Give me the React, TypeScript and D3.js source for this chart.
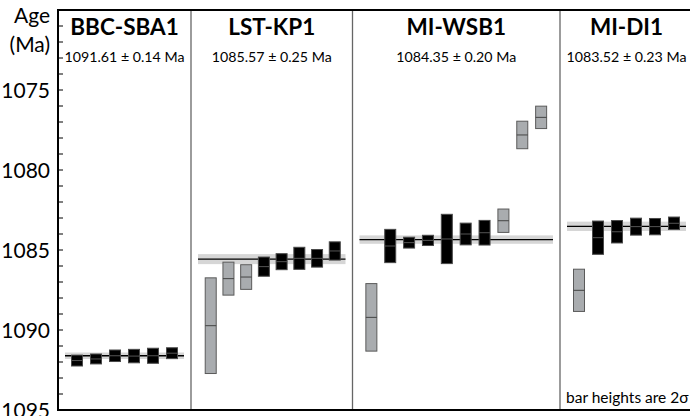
import React from "react";
import * as d3 from "d3";

// Sample names, weighted-mean ages and their uncertainties (Ma)
const samples = ["BBC-SBA1", "LST-KP1", "MI-WSB1", "MI-DI1"];
const meanAges = [1091.61, 1085.57, 1084.35, 1083.52];
const meanErrors = [0.14, 0.25, 0.2, 0.23];

// Individual zircon dates (Ma), half bar heights (Ma) and whether used in the mean
const bbcAges = [1091.91, 1091.81, 1091.61, 1091.63, 1091.61, 1091.45];
const bbcErrs = [0.34, 0.31, 0.36, 0.42, 0.47, 0.34];
const bbcUsed = [true, true, true, true, true, true];

const lstAges = [1089.73, 1086.79, 1086.69, 1086.04, 1085.73, 1085.52, 1085.52, 1085.06];
const lstErrs = [2.99, 1.03, 0.77, 0.6, 0.5, 0.69, 0.55, 0.57];
const lstUsed = [false, false, false, true, true, true, true, true];

const wsbAges = [1089.21, 1084.75, 1084.54, 1084.4, 1084.31, 1084.0, 1083.92, 1083.17, 1077.81, 1076.71];
const wsbErrs = [2.11, 1.04, 0.34, 0.32, 1.54, 0.68, 0.77, 0.73, 0.86, 0.7];
const wsbUsed = [false, true, true, true, true, true, true, false, false, false];

const diAges = [1087.52, 1084.23, 1083.86, 1083.54, 1083.54, 1083.33];
const diErrs = [1.32, 1.04, 0.7, 0.53, 0.51, 0.39];
const diUsed = [false, true, true, true, true, true];

const sampleAges = [bbcAges, lstAges, wsbAges, diAges];
const sampleErrs = [bbcErrs, lstErrs, wsbErrs, diErrs];
const sampleUsed = [bbcUsed, lstUsed, wsbUsed, diUsed];

// Panel edges (px) and the span over which each panel's bars are spread
const panelEdges = [58, 191, 352.5, 560, 693];
const barSpans: [number, number][] = [
  [58, 191],
  [193, 352.5],
  [352.5, 560],
  [560, 693],
];

const yTicksMajor = [1075, 1080, 1085, 1090, 1095];
const yDomain: [number, number] = [1070, 1095];

const WIDTH = 690;
const HEIGHT = 416;
const TOP = 10;
const BOTTOM = 410;
const FONT = "Lato, 'Noto Sans', sans-serif";

export default function App() {
  const y = d3.scaleLinear().domain(yDomain).range([TOP, BOTTOM]);
  const minorTicks = d3.range(1071, 1095, 1);
  const barW = 11;

  return (
    <svg
      width={WIDTH}
      height={HEIGHT}
      style={{ position: "absolute", left: 0, top: 0, background: "#fff" }}
      fontFamily={FONT}
    >
      {/* panels */}
      {samples.map((name, p) => {
        const left = panelEdges[p];
        const right = panelEdges[p + 1];
        const ages = sampleAges[p];
        const errs = sampleErrs[p];
        const used = sampleUsed[p];
        const x = d3
          .scalePoint<number>()
          .domain(d3.range(ages.length))
          .range(barSpans[p])
          .padding(1);
        const cx = (left + right) / 2;
        const m = meanAges[p];
        const me = meanErrors[p];
        return (
          <g key={name}>
            <text
              x={cx}
              y={34.5}
              textAnchor="middle"
              fontWeight="bold"
              fontSize={22.5}
              fill="#000"
            >
              {name}
            </text>
            <text x={cx} y={61.5} textAnchor="middle" fontSize={14.2} fill="#000">
              {`${m.toFixed(2)} ± ${me.toFixed(2)} Ma`}
            </text>
            {/* weighted mean with its uncertainty band */}
            <rect
              x={left + 7}
              width={right - left - 14}
              y={y(m - me) - 1}
              height={y(m + me) - y(m - me) + 2}
              fill="#d6d6d6"
            />
            <line
              x1={left + 7}
              x2={right - 7}
              y1={y(m)}
              y2={y(m)}
              stroke="#000"
              strokeWidth={1.3}
            />
            {ages.map((a, i) => {
              const bx = x(i)!;
              const top = y(a - errs[i]);
              const bot = y(a + errs[i]);
              const on = used[i];
              return (
                <g key={i}>
                  <rect
                    x={bx - barW / 2}
                    y={top}
                    width={barW}
                    height={bot - top}
                    fill={on ? "#000" : "#a9acaf"}
                    stroke={on ? "#4a4a4a" : "#5a5a5a"}
                    strokeWidth={1}
                  />
                  <line
                    x1={bx - barW / 2}
                    x2={bx + barW / 2}
                    y1={y(a)}
                    y2={y(a)}
                    stroke={on ? "#555" : "#444"}
                    strokeWidth={1}
                  />
                </g>
              );
            })}
          </g>
        );
      })}

      {/* panel separators */}
      {panelEdges.slice(1, -1).map((px) => (
        <line key={px} x1={px} x2={px} y1={TOP} y2={BOTTOM} stroke="#666" strokeWidth={1.3} />
      ))}

      {/* frame */}
      <line x1={57} x2={WIDTH} y1={TOP} y2={TOP} stroke="#000" strokeWidth={2} />
      <line x1={57} x2={WIDTH} y1={BOTTOM} y2={BOTTOM} stroke="#000" strokeWidth={2} />
      <line x1={58} x2={58} y1={TOP - 1} y2={BOTTOM + 1} stroke="#000" strokeWidth={2} />

      {/* y axis ticks */}
      {minorTicks.map((t) => (
        <line key={t} x1={58} x2={63} y1={y(t)} y2={y(t)} stroke="#000" strokeWidth={1} />
      ))}
      {yTicksMajor.map((t) => (
        <text
          key={t}
          x={50}
          y={y(t)}
          dy="0.36em"
          textAnchor="end"
          fontSize={21}
          fill="#000"
        >
          {t}
        </text>
      ))}
      <text x={50} y={23} textAnchor="end" fontSize={21} fill="#000">
        Age
      </text>
      <text x={50} y={52} textAnchor="end" fontSize={21} fill="#000">
        (Ma)
      </text>

      <text x={566} y={403} fontSize={15.5} fill="#000">
        bar heights are 2σ
      </text>
    </svg>
  );
}
